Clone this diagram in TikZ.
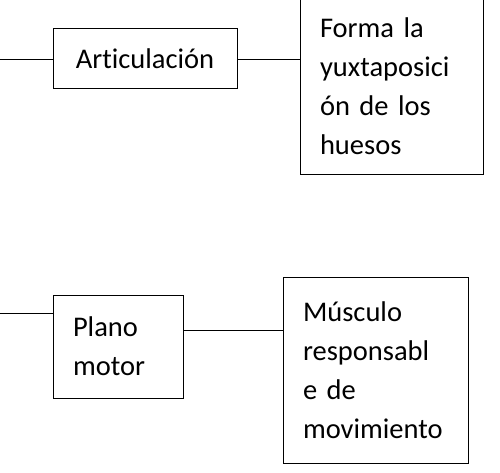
\documentclass[tikz,border=0pt]{standalone}
\usepackage{fontspec}
\setmainfont{Carlito}[Ligatures={NoCommon}]
\begin{document}
\begin{tikzpicture}[x=1pt,y=-1pt,
  caja/.style={draw,line width=1pt,inner xsep=20pt,inner ysep=0pt,align=left,
    font=\fontsize{28.5}{39}\selectfont}]
  \useasboundingbox (0,0) rectangle (500,473);
  \node[caja,align=center,text width=144pt,minimum height=60pt] (artic) at (145,59) {Articulaci\'on};
  \node[caja,text width=143pt,minimum height=177pt] (huesos) at (391.5,86.5)
    {Forma la\\yuxtaposici\\\'on de los\\huesos};
  \coordinate (ini1) at (0,60);
  \draw[line width=1pt] (ini1) -- (artic.west |- ini1);
  \draw[line width=1pt] (artic.east |- ini1) -- (huesos.west |- ini1);
%%%
  \node[caja,text width=90pt,minimum height=103pt] (plano) at (118,346.5) {Plano\\motor};
  \node[caja,text width=145pt,minimum height=186pt] (musculo) at (375.5,370)
    {M\'usculo\\responsabl\\e de\\movimiento};
  \coordinate (ini2) at (0,313);
  \coordinate (med2) at (0,330);
  \draw[line width=1pt] (ini2) -- (plano.west |- ini2);
  \draw[line width=1pt] (plano.east |- med2) -- (musculo.west |- med2);
\end{tikzpicture}
\end{document}
